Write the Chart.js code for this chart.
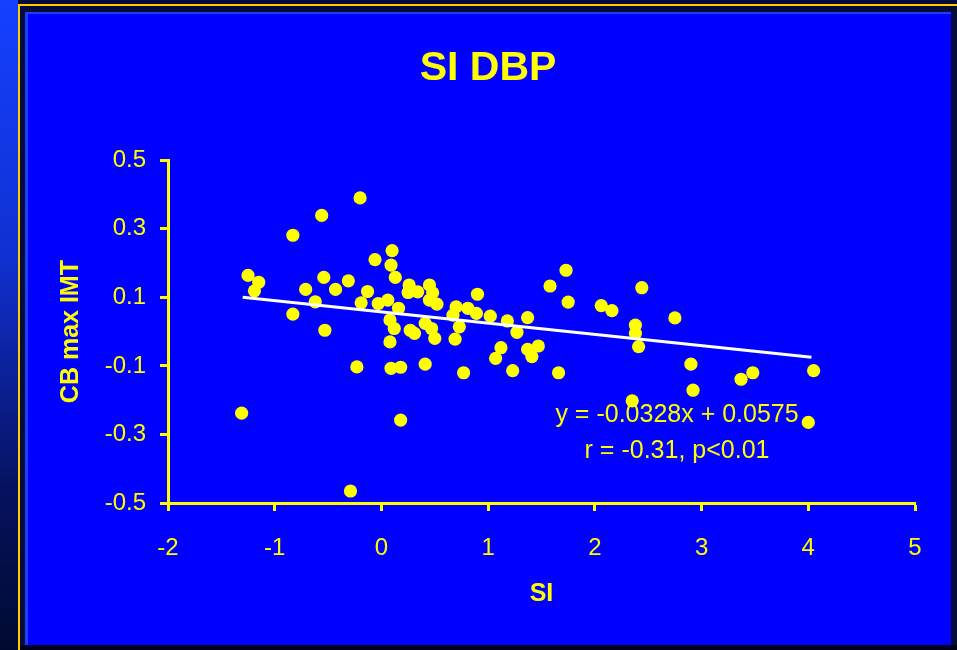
<!DOCTYPE html>
<html>
<head>
<meta charset="utf-8">
<script src="https://cdn.jsdelivr.net/npm/chart.js@4"></script>
<style>
  html, body { margin: 0; padding: 0; }
  body { width: 957px; height: 650px; background: #060c3a; position: relative; overflow: hidden; }
  #strip { position: absolute; left: 0; top: 0; width: 18px; height: 650px;
           background: linear-gradient(#1440ff 0%, #1030d0 40%, #061260 75%, #000a30 100%); }
  #vline { position: absolute; left: 18px; top: 4px; width: 2px; height: 646px; background: #ffcc00; }
  #hline { position: absolute; left: 18px; top: 4px; width: 939px; height: 2px; background: #ffcc00; }
  #panel { position: absolute; left: 25px; top: 12px; width: 926px; height: 633px;
           background: #0000ff; border-top: 2px solid #1a40ff; border-left: 3px solid #1a40ff; box-sizing: border-box; }
  #bottom { position: absolute; left: 20px; top: 645px; width: 937px; height: 5px; background: #00001c; }
  #wrap { position: absolute; left: 0; top: 0; width: 957px; height: 650px; }
</style>
</head>
<body>
<div id="strip"></div>
<div id="vline"></div>
<div id="hline"></div>
<div id="panel"></div>
<div id="bottom"></div>
<div id="wrap"><canvas id="chart" width="957" height="650"></canvas></div>
<script>
// SI against CB max IMT, one dot per subject
const siValues = [
  -1.31, -1.25, -1.15, -1.19, -0.83, -0.83, -0.71, -0.62, -0.56, -0.54,
  -0.53, -0.43, -0.31, -0.29, -0.23, -0.20, -0.19, -0.13, -0.06, -0.03,
  0.06, 0.08, 0.08, 0.09, 0.10, 0.09, 0.12, 0.13, 0.16, 0.18,
  0.18, 0.25, 0.26, 0.27, 0.31, 0.34, 0.41, 0.41, 0.45, 0.45,
  0.48, 0.47, 0.50, 0.52, 0.67, 0.69, 0.70, 0.73, 0.77, 0.81,
  0.89, 0.90, 1.02, 1.07, 1.12, 1.18, 1.23, 1.27, 1.37, 1.37,
  1.41, 1.47, 1.58, 1.66, 1.73, 1.75, 2.06, 2.16, 2.35, 2.38,
  2.38, 2.41, 2.44, 2.75, 2.90, 2.92, 3.37, 3.48, 4.00, 4.05
];
const imtValues = [
  -0.238, 0.164, 0.144, 0.119, 0.281, 0.051, 0.123, 0.087, 0.339, 0.158,
  0.004, 0.123, 0.148, -0.465, -0.103, 0.390, 0.084, 0.117, 0.210, 0.082,
  0.092, 0.034, -0.030, 0.194, 0.236, -0.107, 0.009, 0.158, 0.068, -0.104,
  -0.258, 0.114, 0.136, 0.004, -0.005, 0.116, 0.024, -0.095, 0.136, 0.092,
  0.113, 0.009, -0.020, 0.080, 0.048, -0.022, 0.072, 0.014, -0.120, 0.068,
  0.053, 0.109, 0.045, -0.078, -0.047, 0.031, -0.114, -0.002, 0.041, -0.052,
  -0.073, -0.042, 0.133, -0.120, 0.179, 0.086, 0.076, 0.061, -0.202, 0.019,
  -0.005, -0.044, 0.128, 0.040, -0.095, -0.171, -0.139, -0.120, -0.265, -0.114
];

// linear fit and its stats
const slope = -0.0328;
const intercept = 0.0575;
const fitFrom = -1.3;
const fitTo = 4.03;
const statsText = 'r = -0.31, p<0.01';

const xTicks = [-2, -1, 0, 1, 2, 3, 4, 5];
const yTicks = [-0.5, -0.3, -0.1, 0.1, 0.3, 0.5];

const YELLOW = '#ffff00';
const FONT = '"Liberation Sans", Arial, sans-serif';

const points = siValues.map((x, i) => ({ x: x, y: imtValues[i] }));
const fitLine = [fitFrom, fitTo].map(x => ({ x: x, y: slope * x + intercept }));
const fitText = 'y = ' + slope + 'x + ' + intercept;

// equation + r/p text under the fit line
const fitLabel = {
  id: 'fitLabel',
  afterDatasetsDraw(chart) {
    const { ctx, scales } = chart;
    const cx = scales.x.getPixelForValue(2.77);
    ctx.save();
    ctx.fillStyle = YELLOW;
    ctx.font = '25px ' + FONT;
    ctx.textAlign = 'center';
    ctx.textBaseline = 'middle';
    ctx.fillText(fitText, cx, scales.y.getPixelForValue(-0.245));
    ctx.fillText(statsText, cx, scales.y.getPixelForValue(-0.35));
    ctx.restore();
  }
};

new Chart(document.getElementById('chart'), {
  type: 'scatter',
  data: {
    datasets: [
      {
        data: fitLine,
        showLine: true,
        borderColor: '#ffffff',
        borderWidth: 3,
        pointRadius: 0
      },
      {
        data: points,
        backgroundColor: YELLOW,
        borderWidth: 0,
        pointRadius: 6.6
      }
    ]
  },
  options: {
    responsive: false,
    animation: false,
    layout: { padding: { left: 61, right: 42, top: 14, bottom: 41 } },
    plugins: {
      legend: { display: false },
      tooltip: { enabled: false },
      title: {
        display: true,
        text: 'SI DBP',
        color: YELLOW,
        font: { family: FONT, size: 41, weight: 'bold' },
        padding: { top: 30, bottom: 67 }
      }
    },
    scales: {
      x: {
        type: 'linear',
        min: -2,
        max: 5,
        afterBuildTicks: s => { s.ticks = xTicks.map(v => ({ value: v })); },
        afterFit: s => { s.height = 106; },
        border: { color: YELLOW, width: 3 },
        grid: { drawOnChartArea: false, drawTicks: true, tickLength: 8, tickColor: YELLOW, tickWidth: 3 },
        ticks: { color: YELLOW, font: { family: FONT, size: 24 }, padding: 23 },
        title: {
          display: true,
          text: 'SI',
          color: YELLOW,
          font: { family: FONT, size: 25, weight: 'bold' },
          padding: 0
        }
      },
      y: {
        type: 'linear',
        min: -0.5,
        max: 0.5,
        afterBuildTicks: s => { s.ticks = yTicks.map(v => ({ value: v })); },
        afterFit: s => { s.width = 107; },
        border: { color: YELLOW, width: 3 },
        grid: { drawOnChartArea: false, drawTicks: true, tickLength: 8, tickColor: YELLOW, tickWidth: 3 },
        ticks: {
          color: YELLOW,
          font: { family: FONT, size: 24 },
          padding: 14,
          callback: v => v.toFixed(1)
        },
        title: {
          display: true,
          text: 'CB max IMT',
          color: YELLOW,
          font: { family: FONT, size: 25, weight: 'bold' },
          padding: { top: -5, bottom: 0 }
        }
      }
    }
  },
  plugins: [fitLabel]
});
</script>
</body>
</html>
